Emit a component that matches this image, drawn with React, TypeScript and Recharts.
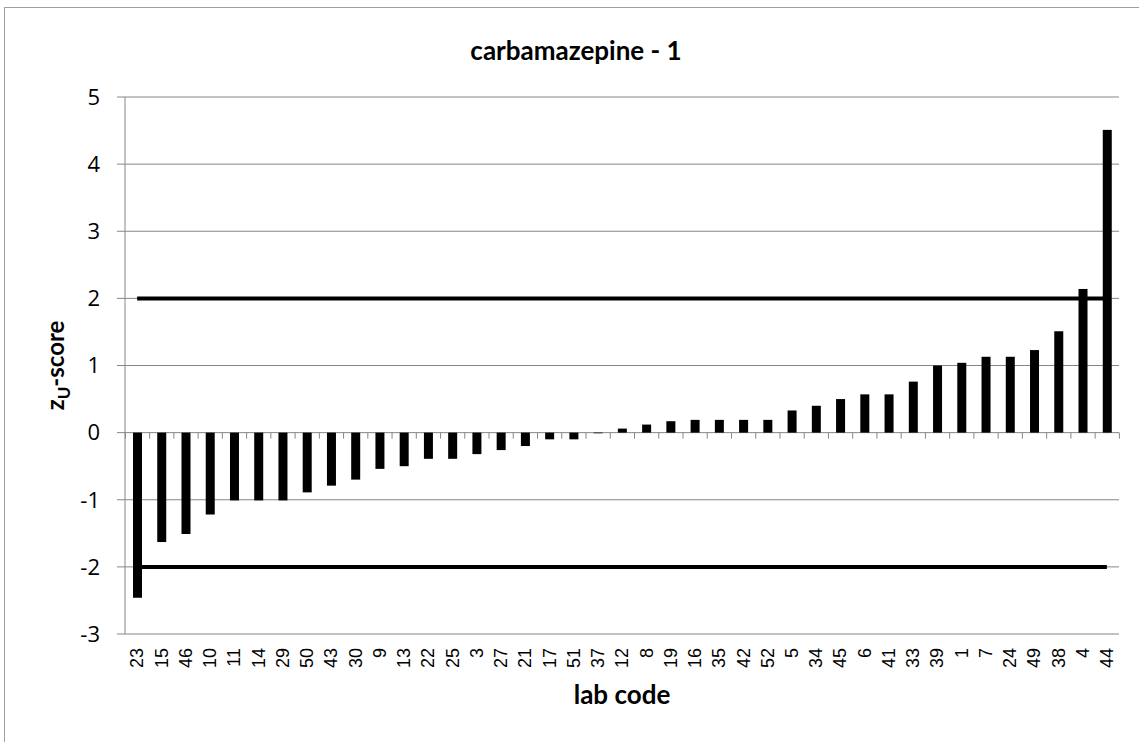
import React from 'react';
import { ComposedChart, Bar, XAxis, YAxis, CartesianGrid, ReferenceLine } from 'recharts';

const labCodes = ['23', '15', '46', '10', '11', '14', '29', '50', '43', '30', '9', '13', '22', '25', '3', '27', '21', '17', '51', '37', '12', '8', '19', '16', '35', '42', '52', '5', '34', '45', '6', '41', '33', '39', '1', '7', '24', '49', '38', '4', '44'];
const zScores = [-2.46, -1.63, -1.51, -1.22, -1.01, -1.01, -1.01, -0.89, -0.79, -0.7, -0.54, -0.5, -0.39, -0.39, -0.32, -0.26, -0.2, -0.1, -0.1, -0.01, 0.06, 0.12, 0.17, 0.19, 0.19, 0.19, 0.19, 0.33, 0.4, 0.5, 0.57, 0.57, 0.76, 1.0, 1.04, 1.13, 1.13, 1.23, 1.51, 2.14, 4.51];
const yTicks = [-3, -2, -1, 0, 1, 2, 3, 4, 5];
const upperLimit = 2;
const lowerLimit = -2;

const data = labCodes.map((code, i) => ({ code, z: zScores[i] }));

const W = 1139;
const H = 742;
const PLOT_LEFT = 125;
const PLOT_RIGHT = 1119;
const PLOT_BOTTOM = 634;
const BAND = (PLOT_RIGHT - PLOT_LEFT) / labCodes.length;
const GRID = '#868686';

// bar plus the small category tick that sits on the zero line
const BarWithTicks = (props: any) => {
  const { x, y, width, height, payload, index } = props;
  const top = Math.min(y, y + height);
  const bottom = Math.max(y, y + height);
  const zero = payload.z >= 0 ? bottom : top;
  const cx = x + width / 2;
  const left = cx - BAND / 2;
  const right = cx + BAND / 2;
  return (
    <g>
      <rect x={x} y={top} width={width} height={bottom - top} fill="#000" />
      <line x1={left} y1={zero} x2={left} y2={zero + 6} stroke={GRID} />
      {index === labCodes.length - 1 && <line x1={right} y1={zero} x2={right} y2={zero + 6} stroke={GRID} />}
    </g>
  );
};

const LabTick = (props: any) => {
  const { x, payload } = props;
  const y = PLOT_BOTTOM + 14;
  return (
    <text
      x={x}
      y={y}
      transform={`rotate(-90 ${x} ${y})`}
      textAnchor="end"
      dy="0.35em"
      fontSize={18}
      fontFamily="'Liberation Sans', Arial, sans-serif"
      fill="#000"
    >
      {payload.value}
    </text>
  );
};

const ZLabel = (props: any) => {
  const { viewBox } = props;
  const cy = viewBox.y + viewBox.height / 2;
  const cx = 56;
  return (
    <text
      transform={`translate(${cx},${cy}) rotate(-90)`}
      textAnchor="middle"
      dy="0.35em"
      fontSize={24}
      fontWeight="bold"
      fontFamily="Lato, sans-serif"
      fill="#000"
    >
      z<tspan dy={6} fontSize={17}>U</tspan>
      <tspan dy={-6}>-score</tspan>
    </text>
  );
};

const LabLabel = (props: any) => {
  const { viewBox } = props;
  const cx = viewBox.x + viewBox.width / 2;
  return (
    <text x={cx} y={704} textAnchor="middle" fontSize={26} fontWeight="bold" fontFamily="Lato, sans-serif" fill="#000">
      lab code
    </text>
  );
};

export default function App() {
  return (
    <div style={{ position: 'fixed', left: 0, top: 0, width: W, height: H, overflow: 'hidden', background: '#fff', fontFamily: 'Lato, sans-serif' }}>
      <div style={{ position: 'absolute', left: 4, top: 7, width: 1160, height: 760, border: '1px solid #a0a0a0' }} />
      <div style={{ position: 'absolute', left: 376, top: 32, width: 400, textAlign: 'center', fontSize: 26, lineHeight: '36px', fontWeight: 'bold', color: '#000' }}>
        carbamazepine - 1
      </div>
      <div style={{ position: 'absolute', left: 0, top: 0 }}>
        <ComposedChart width={W} height={H} data={data} margin={{ top: 97, right: W - PLOT_RIGHT, bottom: 58, left: 65 }}>
          <CartesianGrid vertical={false} stroke={GRID} />
          <XAxis dataKey="code" axisLine={false} tickLine={false} interval={0} height={H - PLOT_BOTTOM - 58} tick={<LabTick />} label={<LabLabel />} />
          <YAxis
            type="number"
            domain={[-3, 5]}
            ticks={yTicks}
            interval={0}
            width={60}
            stroke={GRID}
            tickSize={8}
            tickMargin={17}
            tick={{ fill: '#000', fontSize: 22, fontFamily: "'Open Sans', sans-serif" }}
            label={<ZLabel />}
          />
          <Bar dataKey="z" barSize={9} isAnimationActive={false} shape={<BarWithTicks />} />
          <ReferenceLine segment={[{ x: labCodes[0], y: upperLimit }, { x: labCodes[labCodes.length - 1], y: upperLimit }]} stroke="#000" strokeWidth={4} />
          <ReferenceLine segment={[{ x: labCodes[0], y: lowerLimit }, { x: labCodes[labCodes.length - 1], y: lowerLimit }]} stroke="#000" strokeWidth={4} />
        </ComposedChart>
      </div>
    </div>
  );
}
